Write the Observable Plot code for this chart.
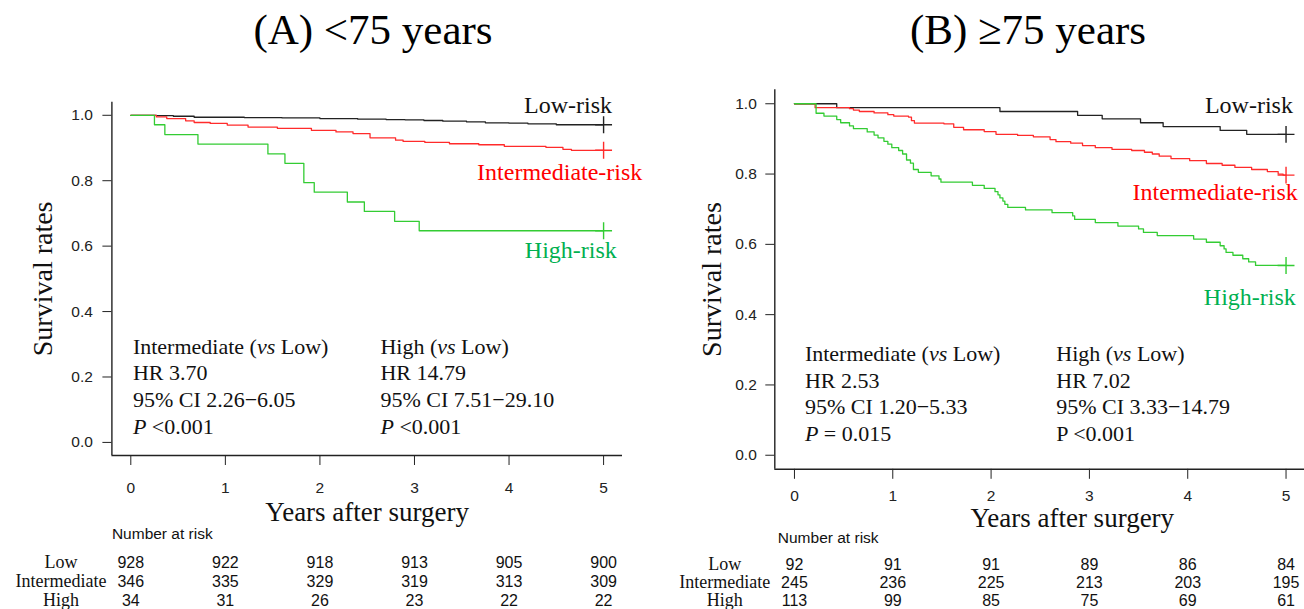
<!DOCTYPE html>
<html><head><meta charset="utf-8">
<script src="https://cdn.jsdelivr.net/npm/d3@7"></script>
<script src="https://cdn.jsdelivr.net/npm/@observablehq/plot@0.6"></script>
<style>
html,body{margin:0;padding:0;background:#fff;width:1304px;height:609px;overflow:hidden;}
#root{position:relative;width:1304px;height:609px;overflow:hidden;}
.abs{position:absolute;}
.title{font-family:"Liberation Serif","Times New Roman",serif;font-size:43px;color:#000;white-space:nowrap;transform:translateX(-50%);line-height:1;}
</style></head>
<body><div id="root"></div>
<script>
// ---------- data ----------
const groups = ["Low", "Intermediate", "High"];
const curveLabels = ["Low-risk", "Intermediate-risk", "High-risk"];
const xTicks = [0, 1, 2, 3, 4, 5];
const yTicks = [0, 0.2, 0.4, 0.6, 0.8, 1.0];
const riskTimes = [0, 1, 2, 3, 4, 5];
const titles = ["(A) <75 years", "(B) \u226575 years"];
const xTitle = "Years after surgery";
const yTitle = "Survival rates";
const riskTitle = "Number at risk";

// Panel A (<75 years)
const aLowT = [0, 0.27, 0.45, 0.67, 1.2, 1.6, 2.0, 2.4, 2.7, 2.9, 3.1, 3.3, 3.55, 3.75, 4.0, 4.2, 4.5, 5.0];
const aLowS = [1.0, 0.999, 0.997, 0.994, 0.993, 0.992, 0.990, 0.988, 0.987, 0.986, 0.984, 0.982, 0.980, 0.977, 0.976, 0.974, 0.971, 0.971];
const aIntT = [0, 0.27, 0.38, 0.58, 0.67, 0.84, 1.02, 1.24, 1.55, 1.91, 2.17, 2.35, 2.53, 2.80, 2.88, 3.11, 3.37, 3.68, 3.95, 4.39, 4.57, 4.66, 5.0];
const aIntS = [1.0, 0.995, 0.990, 0.983, 0.978, 0.975, 0.970, 0.964, 0.960, 0.954, 0.949, 0.944, 0.931, 0.924, 0.920, 0.917, 0.913, 0.910, 0.905, 0.902, 0.896, 0.893, 0.893];
const aHighT = [0, 0.25, 0.36, 0.71, 1.45, 1.63, 1.83, 1.94, 2.29, 2.47, 2.79, 3.05, 5.0];
const aHighS = [1.0, 0.971, 0.941, 0.912, 0.882, 0.853, 0.794, 0.765, 0.735, 0.706, 0.676, 0.647, 0.647];
const aRiskLow = [928, 922, 918, 913, 905, 900];
const aRiskInt = [346, 335, 329, 319, 313, 309];
const aRiskHigh = [34, 31, 26, 23, 22, 22];
const aStatsInt = ["Intermediate (*vs* Low)", "HR 3.70", "95% CI 2.26\u22126.05", "*P* <0.001"];
const aStatsHigh = ["High (*vs* Low)", "HR 14.79", "95% CI 7.51\u221229.10", "*P* <0.001"];

// Panel B (>=75 years)
const bLowT = [0, 0.43, 2.09, 2.88, 3.13, 3.52, 3.75, 4.33, 4.6, 5.0];
const bLowS = [1.0, 0.989, 0.978, 0.967, 0.957, 0.946, 0.935, 0.924, 0.913, 0.913];
const bIntT = [0, 0.21, 0.56, 0.60, 0.66, 0.81, 0.95, 1.01, 1.16, 1.19, 1.22, 1.52, 1.62, 1.72, 1.93, 2.05, 2.27, 2.43, 2.60, 2.66, 2.81, 2.93, 3.06, 3.23, 3.43, 3.56, 3.64, 3.71, 3.83, 4.02, 4.19, 4.35, 4.48, 4.65, 4.81, 4.92, 4.97, 5.0];
const bIntS = [1.0, 0.989, 0.986, 0.982, 0.978, 0.974, 0.969, 0.965, 0.962, 0.952, 0.945, 0.943, 0.933, 0.926, 0.921, 0.913, 0.910, 0.906, 0.898, 0.892, 0.888, 0.881, 0.875, 0.870, 0.867, 0.862, 0.857, 0.851, 0.844, 0.838, 0.830, 0.825, 0.819, 0.813, 0.807, 0.800, 0.797, 0.797];
const bHighT = [0, 0.22, 0.30, 0.43, 0.47, 0.56, 0.60, 0.74, 0.81, 0.85, 0.91, 0.95, 0.99, 1.06, 1.10, 1.14, 1.18, 1.21, 1.26, 1.39, 1.47, 1.49, 1.81, 1.93, 2.04, 2.07, 2.09, 2.12, 2.14, 2.17, 2.35, 2.62, 2.83, 2.85, 3.06, 3.29, 3.50, 3.55, 3.69, 4.06, 4.19, 4.33, 4.37, 4.39, 4.46, 4.56, 4.62, 4.69, 5.0];
const bHighS = [1.0, 0.973, 0.965, 0.955, 0.946, 0.937, 0.929, 0.920, 0.911, 0.903, 0.893, 0.885, 0.875, 0.867, 0.857, 0.840, 0.831, 0.813, 0.805, 0.795, 0.786, 0.777, 0.768, 0.759, 0.750, 0.741, 0.732, 0.723, 0.714, 0.705, 0.698, 0.690, 0.681, 0.671, 0.662, 0.652, 0.644, 0.634, 0.625, 0.615, 0.606, 0.596, 0.587, 0.577, 0.569, 0.559, 0.550, 0.540, 0.540];
const bRiskLow = [92, 91, 91, 89, 86, 84];
const bRiskInt = [245, 236, 225, 213, 203, 195];
const bRiskHigh = [113, 99, 85, 75, 69, 61];
const bStatsInt = ["Intermediate (*vs* Low)", "HR 2.53", "95% CI 1.20\u22125.33", "*P* = 0.015"];
const bStatsHigh = ["High (*vs* Low)", "HR 7.02", "95% CI 3.33\u221214.79", "P <0.001"];

// ---------- styles ----------
const lineColors = ["#222222", "#ff2b2b", "#33cc33"];
const labelColors = ["#111111", "#ff0000", "#00b050"];
const SERIF = "'Liberation Serif','Times New Roman',serif";
const SANS = "'Liberation Sans',Arial,sans-serif";
const xDomain = [-0.2, 5.2];
const yDomain = [-0.04, 1.04];

function italicize(svg) {
  const nodes = [...svg.querySelectorAll("text, tspan")].filter(n => n.children.length === 0 && n.textContent.includes("*"));
  for (const n of nodes) {
    const parts = n.textContent.split("*");
    n.textContent = "";
    parts.forEach((p, i) => {
      if (!p) return;
      const ts = document.createElementNS("http://www.w3.org/2000/svg", "tspan");
      ts.textContent = p;
      if (i % 2 === 1) ts.setAttribute("font-style", "italic");
      n.appendChild(ts);
    });
  }
}

function place(node, left, top) {
  const d = document.createElement("div");
  d.className = "abs";
  d.style.left = left + "px";
  d.style.top = top + "px";
  d.appendChild(node);
  document.getElementById("root").appendChild(d);
}

function panel(cfg) {
  const rows = [];
  cfg.series.forEach((ser, gi) => ser.t.forEach((t, i) => rows.push({group: groups[gi], t, s: ser.s[i]})));
  const ends = cfg.series.map((ser, gi) => ({group: groups[gi], t: ser.t[ser.t.length - 1], s: ser.s[ser.s.length - 1]}));
  const labels = curveLabels.map((text, i) => ({text, i, x: cfg.labelX[i], y: cfg.labelY[i]}));

  const main = Plot.plot({
    width: cfg.width, height: cfg.height,
    marginLeft: cfg.ml, marginRight: cfg.mr, marginTop: cfg.mt, marginBottom: cfg.mb,
    style: {background: "transparent", overflow: "visible", maxWidth: "none", fontFamily: SANS, fontSize: "15.5px", color: "#222"},
    x: {domain: xDomain, ticks: xTicks, tickSize: 10, tickPadding: cfg.xPad, tickFormat: d => String(d), label: null},
    y: {domain: yDomain, ticks: yTicks, tickSize: 9, tickPadding: cfg.yPad, tickFormat: d3.format(".1f"), label: null},
    color: {domain: groups, range: lineColors},
    marks: [
      Plot.ruleX([xDomain[0]], {stroke: "#222", strokeWidth: 1.4}),
      Plot.ruleY([yDomain[0]], {stroke: "#222", strokeWidth: 1.4}),
      Plot.line(rows, {x: "t", y: "s", z: "group", stroke: "group", curve: "step-after", strokeWidth: 1.3}),
      Plot.dot(ends, {x: "t", y: "s", stroke: "group", symbol: "plus", r: 5.5, strokeWidth: 1.4}),
      Plot.text(labels, {x: "x", y: "y", text: "text", fill: d => labelColors[d.i], textAnchor: "end", lineAnchor: "middle", fontFamily: SERIF, fontSize: 24}),
      Plot.text([cfg.statsInt.join("\n")], {x: () => cfg.statsX[0], y: () => cfg.statsY, text: d => d, textAnchor: "start", lineAnchor: "middle", lineHeight: 1.21, fontFamily: SERIF, fontSize: 22, fill: "#111"}),
      Plot.text([cfg.statsHigh.join("\n")], {x: () => cfg.statsX[1], y: () => cfg.statsY, text: d => d, textAnchor: "start", lineAnchor: "middle", lineHeight: 1.21, fontFamily: SERIF, fontSize: 22, fill: "#111"}),
      Plot.text([yTitle], {frameAnchor: "left", dx: cfg.yTitleDx, rotate: -90, text: d => d, textAnchor: "middle", lineAnchor: "middle", fontFamily: SERIF, fontSize: 28, fill: "#111"}),
      Plot.text([xTitle], {frameAnchor: "bottom", dx: cfg.xTitleDx, dy: cfg.xTitleDy, text: d => d, textAnchor: "middle", lineAnchor: "middle", fontFamily: SERIF, fontSize: 27, fill: "#111"})
    ]
  });
  italicize(main);
  place(main, cfg.left, cfg.top);

  const risk = [];
  cfg.risk.forEach((arr, gi) => arr.forEach((n, i) => risk.push({group: groups[gi], t: riskTimes[i], n})));
  const table = Plot.plot({
    width: cfg.width, height: cfg.riskHeight,
    marginLeft: cfg.ml, marginRight: cfg.mr, marginTop: cfg.riskMt, marginBottom: cfg.riskMb,
    style: {background: "transparent", overflow: "visible", maxWidth: "none", fontFamily: SANS, fontSize: "15px", color: "#222"},
    x: {domain: xDomain, axis: null},
    y: {type: "point", domain: groups, padding: 0, axis: null},
    marks: [
      Plot.text(risk, {x: "t", y: "group", text: d => String(d.n), fontFamily: SANS, fontSize: 16, fill: "#111", lineAnchor: "middle"}),
      Plot.text(groups, {y: d => d, text: d => d, frameAnchor: "left", dx: cfg.rowDx, textAnchor: "middle", lineAnchor: "middle", fontFamily: SERIF, fontSize: 18, fill: "#111"}),
      Plot.text([riskTitle], {frameAnchor: "top-left", dx: cfg.riskTitleDx, dy: cfg.riskTitleDy, text: d => d, textAnchor: "start", lineAnchor: "middle", fontFamily: SANS, fontSize: 15.5, fill: "#111"})
    ]
  });
  place(table, cfg.left, cfg.riskTop);

  const t = document.createElement("div");
  t.className = "title";
  t.textContent = cfg.title;
  const d = document.createElement("div");
  d.className = "abs";
  d.style.left = cfg.titleX + "px";
  d.style.top = "8px";
  d.appendChild(t);
  document.getElementById("root").appendChild(d);
}

panel({
  title: titles[0], titleX: 373,
  left: 0, top: 60, width: 652, height: 480,
  ml: 111.4, mr: 30, mt: 41.7, mb: 85,
  xPad: 16, yPad: 10,
  series: [{t: aLowT, s: aLowS}, {t: aIntT, s: aIntS}, {t: aHighT, s: aHighS}],
  labelX: [5.09, 5.41, 5.14], labelY: [1.03, 0.827, 0.588],
  statsInt: aStatsInt, statsHigh: aStatsHigh, statsX: [0.022, 2.64], statsY: 0.175,
  yTitleDx: -69, xTitleDx: 0, xTitleDy: 57,
  risk: [aRiskLow, aRiskInt, aRiskHigh], riskTop: 520, riskHeight: 89, riskMt: 42, riskMb: 9,
  rowDx: -51, riskTitleDx: 0, riskTitleDy: -28
});

panel({
  title: titles[1], titleX: 1028,
  left: 652, top: 60, width: 660, height: 480,
  ml: 122.3, mr: 6.8, mt: 29.2, mb: 71.2,
  xPad: 11, yPad: 9,
  series: [{t: bLowT, s: bLowS}, {t: bIntT, s: bIntS}, {t: bHighT, s: bHighS}],
  labelX: [5.07, 5.12, 5.10], labelY: [0.995, 0.748, 0.45],
  statsInt: bStatsInt, statsHigh: bStatsHigh, statsX: [0.106, 2.663], statsY: 0.179,
  yTitleDx: -63, xTitleDx: 32, xTitleDy: 49,
  risk: [bRiskLow, bRiskInt, bRiskHigh], riskTop: 520, riskHeight: 89, riskMt: 43, riskMb: 9,
  rowDx: -50, riskTitleDx: 3, riskTitleDy: -25
});
</script></body></html>
